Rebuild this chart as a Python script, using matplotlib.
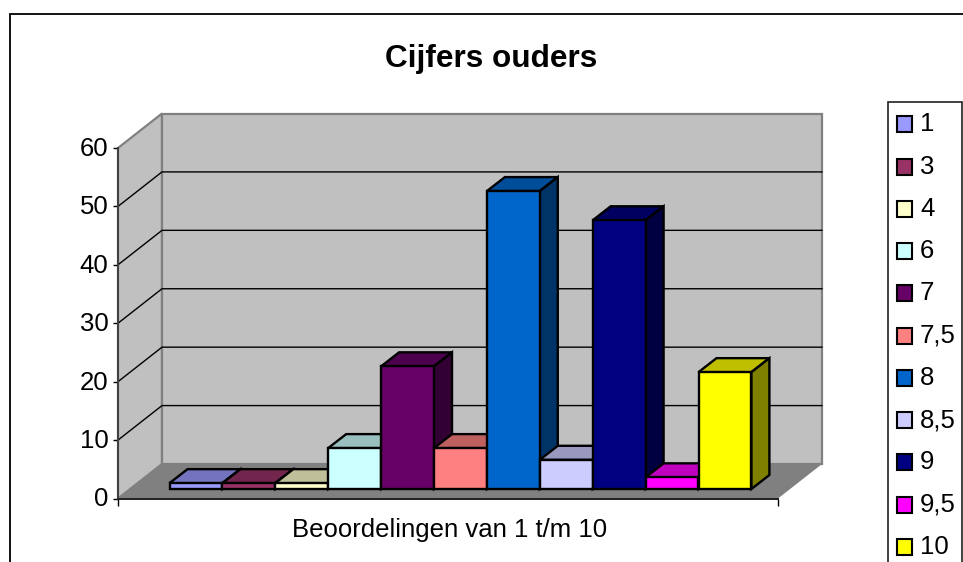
import matplotlib
matplotlib.use("Agg")
import matplotlib.pyplot as plt
from matplotlib.patches import Polygon, Patch, Rectangle
from matplotlib.transforms import ScaledTranslation

plt.rcParams['font.family'] = ['Liberation Sans', 'DejaVu Sans']

# data
categories = ['1', '3', '4', '6', '7', '7,5', '8', '8,5', '9', '9,5', '10']
values = [1, 1, 1, 7, 21, 7, 51, 5, 46, 2, 20]
colors = ['#9999FF', '#993366', '#FFFFCC', '#CCFFFF', '#660066', '#FF8080',
          '#0066CC', '#CCCCFF', '#000080', '#FF00FF', '#FFFF00']
y_ticks = [0, 10, 20, 30, 40, 50, 60]
title = 'Cijfers ouders'
x_label = 'Beoordelingen van 1 t/m 10'

W, H = 963, 562
fig = plt.figure(figsize=(W / 100, H / 100), dpi=100)

# front plane of the fake 3D box, in pixels
left, right, bottom, top = 118, 778, 498.5, 148
ax = fig.add_axes([left / W, 1 - bottom / H, (right - left) / W, (bottom - top) / H])

px_per_bar = 52.9
first_bar = 169.5
ax.set_xlim((left - first_bar) / px_per_bar, (right - first_bar) / px_per_bar)
ax.set_ylim(0, 60)
px_y = (bottom - top) / 60


def dx(px):
    return px / px_per_bar


def dy(px):
    return px / px_y


def poly(pts, fc, ec='none', lw=0, z=1):
    ax.add_patch(Polygon(pts, closed=True, facecolor=fc, edgecolor=ec, linewidth=lw,
                         zorder=z, clip_on=False, joinstyle='miter'))


x0, x1 = ax.get_xlim()
depth_x, depth_y = dx(44), dy(34.5)

# walls and floor
poly([(x0, 0), (x0 + depth_x, depth_y), (x0 + depth_x, 60 + depth_y), (x0, 60)],
     '#C0C0C0', '#808080', 1.6)
poly([(x0 + depth_x, depth_y), (x1 + depth_x, depth_y), (x1 + depth_x, 60 + depth_y),
      (x0 + depth_x, 60 + depth_y)], '#C0C0C0', '#808080', 1.6)
# floor goes over the bottom edge of the walls
poly([(x0, 0), (x0 + depth_x, depth_y), (x1 + depth_x, depth_y), (x1, 0)], '#808080', z=1.5)

# gridlines on both walls
for t in y_ticks[1:-1]:
    ax.plot([x0, x0 + depth_x, x1 + depth_x], [t, t + depth_y, t + depth_y],
            color='black', lw=1.0, zorder=2, clip_on=False)

# bars, left to right so each one covers the side of the previous
base = dy(9.5)
bar_dx, bar_dy = dx(18), dy(14)


def shade(c, f):
    rgb = matplotlib.colors.to_rgb(c)
    return tuple(v * f for v in rgb)


for i, (v, c) in enumerate(zip(values, colors)):
    z = 3 + i
    ax.bar(i, v, width=1, bottom=base, align='edge', color=c, edgecolor='black',
           linewidth=1.7, zorder=z + 0.5, clip_on=False)
    t = base + v
    poly([(i, t), (i + bar_dx, t + bar_dy), (i + 1 + bar_dx, t + bar_dy), (i + 1, t)],
         shade(c, 0.75), 'black', 1.7, z)
    poly([(i + 1, base), (i + 1 + bar_dx, base + bar_dy), (i + 1 + bar_dx, t + bar_dy), (i + 1, t)],
         shade(c, 0.5), 'black', 1.7, z)

# axes
for s in ['top', 'right']:
    ax.spines[s].set_visible(False)
ax.patch.set_visible(False)
ax.spines['left'].set_color('#404040')
ax.spines['left'].set_linewidth(1.4)
ax.spines['bottom'].set_color('#202020')
ax.spines['bottom'].set_linewidth(1.4)
for s in ax.spines.values():
    s.set_zorder(30)
ax.set_yticks(y_ticks)
ax.tick_params(axis='y', length=3.6, width=1, labelsize=18.5, pad=3.3)
# labels sit a little above their ticks in the original
shift = ScaledTranslation(0, 1.5 / 100, fig.dpi_scale_trans)
for lab in ax.get_yticklabels():
    lab.set_transform(lab.get_transform() + shift)
ax.set_xticks([x0, x1])
ax.set_xticklabels([])
ax.tick_params(axis='x', length=5, width=1, direction='out')
ax.text((x0 + x1) / 2 + dx(1.5), -dy(31), x_label, fontsize=18.5, ha='center', va='center')

# title and chart frame
fig.text(491 / W, 1 - 59 / H, title, fontsize=22.7, fontweight='bold', ha='center', va='center')
fig.add_artist(Rectangle((10 / W, -0.1), 1, 1 - 13.5 / H + 0.1, transform=fig.transFigure,
                         fill=False, edgecolor='black', linewidth=1.3))

# legend runs past the bottom of the picture, so the box is drawn by hand
fig.add_artist(Rectangle((887.5 / W, -0.1), 74.2 / W, 1 - 101.7 / H + 0.1, transform=fig.transFigure,
                         facecolor='white', edgecolor='#202020', linewidth=1.2))
handles = [Patch(facecolor=c, edgecolor='black', linewidth=1.5) for c in colors]
leg = fig.legend(handles, categories, loc='upper left', bbox_to_anchor=(888.5 / W, 1 - 105.5 / H),
                 fontsize=18.5, frameon=False, borderpad=0.35, labelspacing=0.71,
                 handlelength=0.58, handleheight=0.58, handletextpad=0.3, borderaxespad=0)
# legend text sits slightly above the squares
for txt in leg.get_texts():
    txt.set_y(2)

fig.savefig('out.png', dpi=100)
